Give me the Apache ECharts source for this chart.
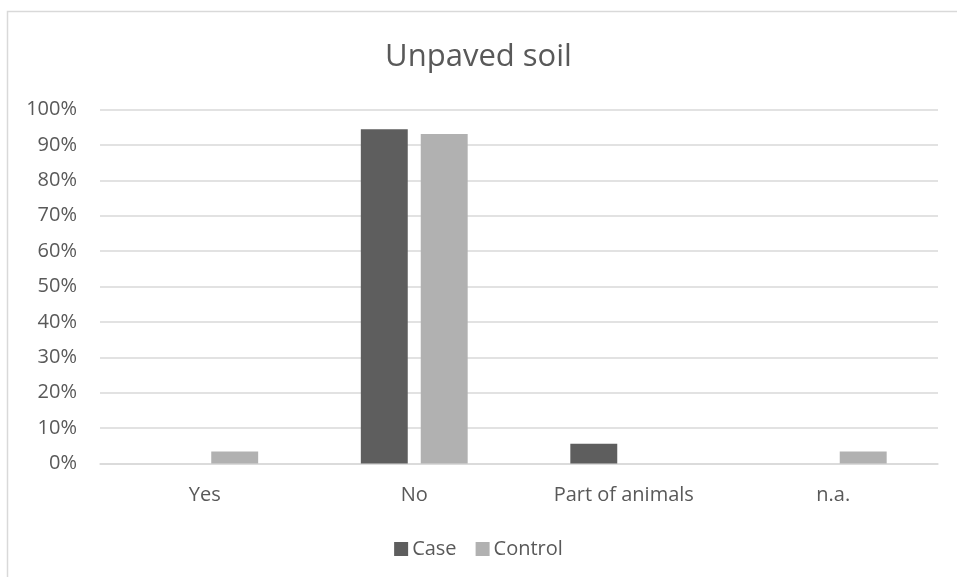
<!DOCTYPE html>
<html>
<head>
<meta charset="utf-8">
<script src="https://cdn.jsdelivr.net/npm/echarts@6/dist/echarts.min.js"></script>
<style>
  html, body { margin: 0; padding: 0; background: #ffffff; }
  #chart { width: 957px; height: 577px; }
</style>
</head>
<body>
<div id="chart"></div>
<script>
// Share of animals kept on unpaved soil, by group
const categories = ['Yes', 'No', 'Part of animals', 'n.a.'];
const caseValues = [0, 94.4, 5.6, 0];
const controlValues = [3.4, 93.1, 0, 3.4];
const yTicks = [0, 10, 20, 30, 40, 50, 60, 70, 80, 90, 100];

const FONT = '"Open Sans", sans-serif';
const TEXT = '#595959';
const GRID = '#d9d9d9';

const chart = echarts.init(document.getElementById('chart'), null, { renderer: 'canvas' });

chart.setOption({
  backgroundColor: '#ffffff',
  animation: false,
  title: {
    text: 'Unpaved soil',
    left: 'center',
    top: 37,
    textStyle: { fontFamily: FONT, fontSize: 31, fontWeight: 'normal', color: TEXT }
  },
  legend: {
    bottom: 13,
    left: 'center',
    itemWidth: 14,
    itemHeight: 14,
    itemGap: 19,
    icon: 'rect',
    textStyle: { fontFamily: FONT, fontSize: 20, color: TEXT, padding: [0, 0, 0, -1] },
    data: ['Case', 'Control']
  },
  grid: { left: 100, right: 19, top: 109.5, bottom: 113.5, containLabel: false },
  xAxis: {
    type: 'category',
    data: categories,
    axisLine: { show: true, lineStyle: { color: GRID, width: 1.5 } },
    axisTick: { show: false },
    axisLabel: { fontFamily: FONT, fontSize: 20, color: TEXT, margin: 22 }
  },
  yAxis: {
    type: 'value',
    min: yTicks[0],
    max: yTicks[yTicks.length - 1],
    interval: 10,
    axisLine: { show: false },
    axisTick: { show: false },
    splitLine: { lineStyle: { color: GRID, width: 1.5 } },
    axisLabel: {
      fontFamily: FONT, fontSize: 20, color: TEXT, margin: 23,
      formatter: v => v + '%'
    }
  },
  series: [
    {
      name: 'Case',
      type: 'bar',
      data: caseValues,
      barGap: '27.7%',
      barCategoryGap: '49%',
      itemStyle: { color: '#5e5e5e' }
    },
    {
      name: 'Control',
      type: 'bar',
      data: controlValues,
      itemStyle: { color: '#b1b1b1' }
    }
  ],
  graphic: [
    {
      type: 'rect',
      shape: { x: 7.5, y: 11.5, width: 960, height: 580 },
      style: { fill: 'none', stroke: GRID, lineWidth: 1.5 },
      silent: true
    }
  ]
});
</script>
</body>
</html>
